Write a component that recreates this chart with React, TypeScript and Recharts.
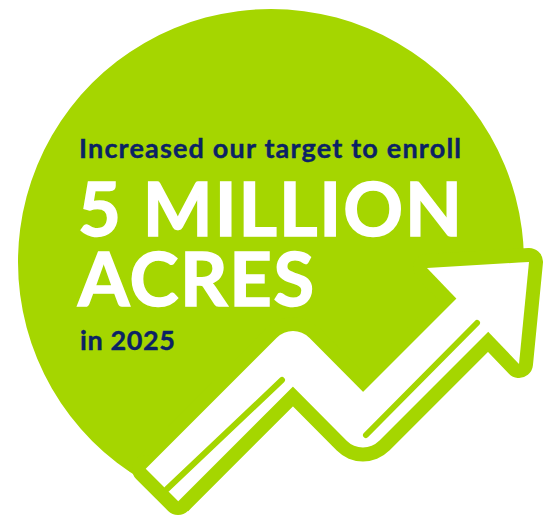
import React from "react";
import { PieChart, Pie, Cell, ComposedChart, Area, Line, XAxis, YAxis } from "recharts";

const W = 555;
const H = 517;

const GREEN = "#A5D600";
const NAVY = "#0B2265";

// backdrop disc
const discData = [{ name: "disc", value: 1 }];

// everything below the arrow is knocked out of the disc
const maskX = [128, 168, 178, 293, 350, 363, 377, 487, 519, 529, 555];
const maskY = [471, 511, 501, 387, 444, 449, 444, 333, 364, 262, 262];

// arrow body centre line, tail edge, head and the two inner stripes
const bodyX = [162, 293, 363, 478];
const bodyY = [485, 354, 424.5, 309.5];
const outlineBodyX = [162, 293, 363, 470];
const outlineBodyY = [485, 354, 424.5, 317.5];
const tailX = [146, 178];
const tailY = [469, 501];
const headEdgeX = [427, 529, 519, 427];
const headEdgeY = [268, 262, 364, 268];
const headX = [427, 519, 529];
const headTop = [268, 262.5, 262];
const headBottom = [268, 364, 262];
const stripeOneX = [167, 282];
const stripeOneY = [489, 380];
const stripeTwoX = [366, 477];
const stripeTwoY = [435, 323];

const zip = (xs: number[], ys: number[]) => xs.map((x, i) => ({ x, y: ys[i] }));

const maskData = maskX.map((x, i) => ({ x, range: [maskY[i], H] }));
const headData = headX.map((x, i) => ({ x, range: [headTop[i], headBottom[i]] }));

const layer: React.CSSProperties = { position: "absolute", left: 0, top: 0 };
const noMargin = { top: 0, right: 0, bottom: 0, left: 0 };

export default function App() {
    return (
        <div style={{ ...layer, width: W, height: H, fontFamily: "Lato" }}>
            <div style={layer}>
                <PieChart width={W} height={H} margin={noMargin}>
                    <Pie
                        data={discData}
                        dataKey="value"
                        cx={271}
                        cy={262}
                        innerRadius={0}
                        outerRadius={253}
                        startAngle={0}
                        endAngle={360}
                        stroke="none"
                        isAnimationActive={false}
                    >
                        <Cell fill={GREEN} />
                    </Pie>
                </PieChart>
            </div>
            <div style={layer}>
                <ComposedChart width={W} height={H} margin={noMargin}>
                    <XAxis type="number" dataKey="x" domain={[0, W]} hide />
                    <YAxis type="number" domain={[0, H]} reversed hide />
                    <Area data={maskData} dataKey="range" type="linear" fill="#ffffff" fillOpacity={1} stroke="none" dot={false} activeDot={false} isAnimationActive={false} />
                    <Line data={zip(outlineBodyX, outlineBodyY)} dataKey="y" type="linear" stroke={GREEN} strokeWidth={74} strokeLinejoin="round" strokeLinecap="butt" dot={false} activeDot={false} isAnimationActive={false} />
                    <Line data={zip(tailX, tailY)} dataKey="y" type="linear" stroke={GREEN} strokeWidth={28} strokeLinecap="round" dot={false} activeDot={false} isAnimationActive={false} />
                    <Line data={zip(headEdgeX, headEdgeY)} dataKey="y" type="linear" stroke={GREEN} strokeWidth={28} strokeLinejoin="round" strokeLinecap="round" dot={false} activeDot={false} isAnimationActive={false} />
                </ComposedChart>
            </div>
            <div style={layer}>
                <ComposedChart width={W} height={H} margin={noMargin}>
                    <XAxis type="number" dataKey="x" domain={[0, W]} hide />
                    <YAxis type="number" domain={[0, H]} reversed hide />
                    <Area data={headData} dataKey="range" type="linear" fill="#ffffff" fillOpacity={1} stroke="none" dot={false} activeDot={false} isAnimationActive={false} />
                    <Line data={zip(bodyX, bodyY)} dataKey="y" type="linear" stroke="#ffffff" strokeWidth={46} strokeLinejoin="round" strokeLinecap="butt" dot={false} activeDot={false} isAnimationActive={false} />
                    <Line data={zip(stripeOneX, stripeOneY)} dataKey="y" type="linear" stroke={GREEN} strokeWidth={6} strokeLinecap="round" dot={false} activeDot={false} isAnimationActive={false} />
                    <Line data={zip(stripeTwoX, stripeTwoY)} dataKey="y" type="linear" stroke={GREEN} strokeWidth={6} strokeLinecap="round" dot={false} activeDot={false} isAnimationActive={false} />
                    <text x={79} y={158} fill={NAVY} stroke={NAVY} strokeWidth={0.4} fontFamily="Lato" fontWeight={700} fontSize={27} textLength={382}>
                        Increased our target to enroll
                    </text>
                    <text x={80} y={350} fill={NAVY} stroke={NAVY} strokeWidth={0.4} fontFamily="Lato" fontWeight={700} fontSize={27} textLength={95}>
                        in 2025
                    </text>
                    <text x={78} y={236} fill="#ffffff" stroke="#ffffff" strokeWidth={1.5} fontFamily="Lato" fontWeight={700} fontSize={74} textLength={384}>
                        5 MILLION
                    </text>
                    <text x={78} y={306} fill="#ffffff" stroke="#ffffff" strokeWidth={1.5} fontFamily="Lato" fontWeight={700} fontSize={74} textLength={236}>
                        ACRES
                    </text>
                </ComposedChart>
            </div>
        </div>
    );
}
